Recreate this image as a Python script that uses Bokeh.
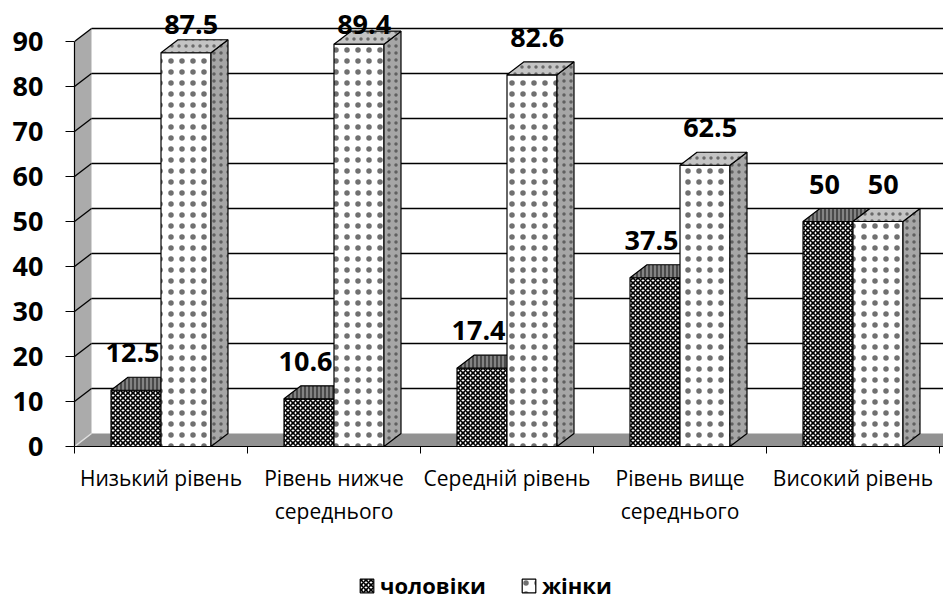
import numpy as np
from bokeh.plotting import figure
from bokeh.layouts import column
from bokeh.models import Range1d, LinearAxis, FixedTicker, Legend, LegendItem
from bokeh.core.properties import value
from bokeh.embed import file_html
from bokeh.resources import INLINE

# ---- data ----
categories = ["Низький рівень", "Рівень нижче\nсереднього", "Середній рівень",
              "Рівень вище\nсереднього", "Високий рівень"]
men = [12.5, 10.6, 17.4, 37.5, 50]
women = [87.5, 89.4, 82.6, 62.5, 50]
y_ticks = [0, 10, 20, 30, 40, 50, 60, 70, 80, 90]
series_names = ["чоловіки", "жінки"]

# ---- layout constants ----
W = 943
H_MAIN, H_LEG = 564, 36
PX_PER_CAT = 173.0
PX_PER_UNIT = 4.5
LEFT = 74
FRAME_H = 446
BOTTOM = H_MAIN - FRAME_H
frame_w = W - LEFT
x_end = frame_w / PX_PER_CAT
y_end = FRAME_H / PX_PER_UNIT
DX = 17 / PX_PER_CAT          # 3-D depth offset in x units
DY = 13 / PX_PER_UNIT         # 3-D depth offset in y units
BW = 50 / PX_PER_CAT          # bar width
FONT = "Open Sans"

men_a = np.array(men, dtype=float)
women_a = np.array(women, dtype=float)
n = len(categories)
centers = np.arange(n) + 0.5
y_max = max(y_ticks)

MEN_STYLE = dict(fill_color="white", hatch_pattern="diagonal_cross", hatch_color="black",
                 hatch_scale=5, hatch_weight=1.6, line_color="black", line_width=1.2)
WOM_STYLE = dict(fill_color="white", hatch_pattern="dot", hatch_color="#707070",
                 hatch_scale=11, hatch_weight=0.8, line_color="black", line_width=1.2)

p = figure(width=W, height=H_MAIN, x_range=Range1d(0, x_end), y_range=Range1d(0, y_end),
           output_backend="svg", toolbar_location=None,
           x_axis_type=None, y_axis_type=None,
           min_border_left=LEFT, min_border_right=0, min_border_top=0,
           min_border_bottom=BOTTOM, outline_line_color=None,
           background_fill_color="white", border_fill_color="white")

# ---- walls & floor ----
p.patch(x=[0, DX, x_end, x_end], y=[0, DY, DY, 0],
        fill_color="#929292", line_color=None)
p.patch(x=[0, DX, DX, 0], y=[0, DY, y_max + DY, y_max],
        fill_color="#ababab", line_color=None)
p.segment(x0=[0], y0=[0], x1=[DX], y1=[DY], line_color="#e0e0e0", line_width=1.5)

grid_v = np.array(y_ticks[1:], dtype=float)
p.segment(x0=DX, y0=grid_v + DY, x1=x_end, y1=grid_v + DY, line_color="black", line_width=1.3)
p.segment(x0=0, y0=grid_v, x1=DX, y1=grid_v + DY, line_color="black", line_width=1.3)

# ---- bars ----
men_l = centers - BW
men_r = centers
wom_l = centers
wom_r = centers + BW

p.quad(left=men_l, right=men_r, bottom=0, top=men_a, **MEN_STYLE)
p.patches(xs=[[l, l + DX, r + DX, r] for l, r in zip(men_l, men_r)],
          ys=[[v, v + DY, v + DY, v] for v in men_a],
          fill_color="#4a4a4a", hatch_pattern="vertical_line", hatch_color="#bdbdbd",
          hatch_scale=4, hatch_weight=1, line_color="black", line_width=1.2)

p.quad(left=wom_l, right=wom_r, bottom=0, top=women_a, **WOM_STYLE)
p.patches(xs=[[r, r + DX, r + DX, r] for r in wom_r],
          ys=[[0, DY, v + DY, v] for v in women_a],
          fill_color="#a6a6a6", hatch_pattern="dot", hatch_color="#606060",
          hatch_scale=7, hatch_weight=0.8, line_color="black", line_width=1.2)
p.patches(xs=[[l, l + DX, r + DX, r] for l, r in zip(wom_l, wom_r)],
          ys=[[v, v + DY, v + DY, v] for v in women_a],
          fill_color="#c4c4c4", hatch_pattern="dot", hatch_color="#6a6a6a",
          hatch_scale=7, hatch_weight=0.8, line_color="black", line_width=1.2)

# ---- data labels ----
LABEL_CAP = 93.7
p.text(x=centers - BW / 2 - 0.02, y=np.minimum(men_a + 8.3, LABEL_CAP),
       text=[f"{v:g}" for v in men], text_align="center", text_baseline="middle",
       text_font=value(FONT), text_font_style="bold", text_font_size="27px", text_color="black")
p.text(x=centers + BW / 2 + 0.03, y=np.minimum(women_a + 8.3, LABEL_CAP),
       text=[f"{v:g}" for v in women], text_align="center", text_baseline="middle",
       text_font=value(FONT), text_font_style="bold", text_font_size="27px", text_color="black")

# ---- axes ----
yaxis = LinearAxis(ticker=FixedTicker(ticks=y_ticks, minor_ticks=[]), bounds=(0, y_max),
                   axis_line_color="black", axis_line_width=1.2,
                   major_tick_out=9, major_tick_in=0, major_tick_line_color="black",
                   minor_tick_out=0, minor_tick_in=0,
                   major_label_standoff=22, major_label_text_font=FONT,
                   major_label_text_font_style="bold", major_label_text_font_size="27px",
                   major_label_text_color="black")
p.add_layout(yaxis, "left")

xaxis = LinearAxis(ticker=FixedTicker(ticks=list(centers), minor_ticks=list(range(n + 1))),
                   major_label_overrides={float(c): lab for c, lab in zip(centers, categories)},
                   axis_line_color="black", axis_line_width=1.2,
                   major_tick_line_color=None, major_tick_out=0, major_tick_in=0,
                   minor_tick_out=7, minor_tick_in=0, minor_tick_line_color="black",
                   major_label_standoff=10, major_label_text_font=FONT,
                   major_label_text_font_size="21px", major_label_text_color="black",
                   major_label_text_line_height=1.18)
p.add_layout(xaxis, "below")

# ---- legend (own strip under the chart; frames are aligned by the column) ----
lg = figure(width=W, height=H_LEG, x_range=Range1d(0, 1), y_range=Range1d(0, 1),
            output_backend="svg", toolbar_location=None, x_axis_type=None, y_axis_type=None,
            min_border=0, outline_line_color=None)
r_men = lg.quad(left=[2], right=[3], bottom=[0], top=[1], **MEN_STYLE)
r_wom = lg.quad(left=[2], right=[3], bottom=[0], top=[1], **WOM_STYLE)
legend = Legend(items=[LegendItem(label=series_names[0], renderers=[r_men]),
                       LegendItem(label=series_names[1], renderers=[r_wom])],
                orientation="horizontal", location=(358 - LEFT, 0),
                glyph_width=17, glyph_height=17, label_standoff=5, spacing=34,
                padding=0, margin=0, border_line_color=None, background_fill_alpha=0,
                label_text_font=FONT, label_text_font_style="bold",
                label_text_font_size="22px", label_text_color="black")
lg.add_layout(legend, "center")

layout = column(p, lg, spacing=0)
open("out.html", "w").write(file_html(layout, INLINE))
